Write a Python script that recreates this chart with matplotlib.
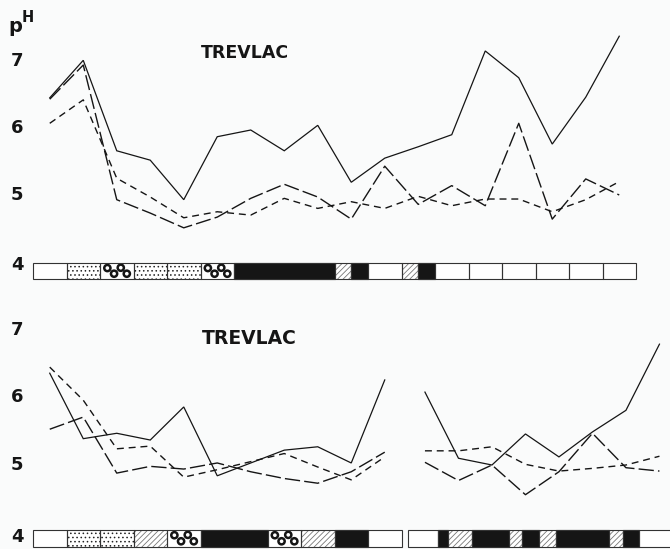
import matplotlib
matplotlib.use("Agg")
import matplotlib.pyplot as plt
from matplotlib.patches import Rectangle

# pH readings, one per sampling cell
solid_top = [6.45, 7.01, 5.66, 5.52, 4.93, 5.87, 5.97, 5.66, 6.04, 5.19,
             5.55, 5.72, 5.90, 7.15, 6.75, 5.76, 6.46, 7.37]
long_top = [6.43, 6.94, 4.93, 4.73, 4.51, 4.67, 4.95, 5.16, 4.97, 4.64,
            5.43, 4.86, 5.14, 4.84, 6.07, 4.64, 5.24, 5.00]
short_top = [6.07, 6.42, 5.25, 4.97, 4.66, 4.75, 4.70, 4.95, 4.80, 4.90,
             4.80, 4.98, 4.84, 4.94, 4.94, 4.75, 4.93, 5.20]

solid_bl = [6.36, 5.39, 5.47, 5.37, 5.86, 4.84, 5.03, 5.22, 5.27, 5.03, 6.26]
long_bl = [5.53, 5.71, 4.88, 4.98, 4.94, 5.03, 4.90, 4.80, 4.73, 4.90, 5.19]
short_bl = [6.45, 5.96, 5.24, 5.28, 4.82, 4.93, 5.05, 5.17, 4.97, 4.78, 5.12]

solid_br = [6.08, 5.10, 5.00, 5.46, 5.12, 5.49, 5.81, 6.79]
long_br = [5.04, 4.77, 5.00, 4.56, 4.90, 5.47, 4.96, 4.91]
short_br = [5.21, 5.21, 5.27, 5.01, 4.91, 4.95, 5.00, 5.13]

# substrate strips: (pattern, width in cells)
strip_top = [("white", 1), ("dots", 1), ("rings", 1), ("dots", 1), ("dots", 1),
             ("rings", 1), ("black", 3), ("hatch", 0.5), ("black", 0.5),
             ("white", 1), ("hatch", 0.5), ("black", 0.5)] + [("white", 1)] * 6
strip_bl = [("white", 1), ("dots", 1), ("dots", 1), ("hatch", 1), ("rings", 1),
            ("black", 2), ("rings", 1), ("hatch", 1), ("black", 1), ("white", 1)]
strip_br = [("white", 0.9), ("black", 0.3), ("hatch", 0.7), ("black", 1.1),
            ("hatch", 0.4), ("black", 0.5), ("hatch", 0.5), ("black", 1.6),
            ("hatch", 0.4), ("black", 0.5), ("white", 1.3)]

ticks = [7, 6, 5]
right_start = 11.2
cell_px = 33.5
ink = "#151515"

plt.rcParams["hatch.linewidth"] = 0.6
bg = "#fafbfb"
fig = plt.figure(figsize=(6.7, 5.49), dpi=100, facecolor=bg)
W, H = 670, 549
x_lo, x_hi = -33 / cell_px, (W - 33) / cell_px

ax1 = fig.add_axes([0, 1 - 290 / H, 1, 290 / H])
ax2 = fig.add_axes([0, 0, 1, 259 / H])
ax1.set_ylim(5 - 95 / 67, 5 + 195 / 67)
ax2.set_ylim(5 - 84 / 67.5, 5 + 175 / 67.5)
for ax in (ax1, ax2):
    ax.set_xlim(x_lo, x_hi)
    ax.set_facecolor(bg)
    ax.axis("off")


def draw_strip(ax, segs, start, y0, y1):
    x = start
    for kind, w in segs:
        if kind == "black":
            ax.add_patch(Rectangle((x, y0), w, y1 - y0, facecolor=ink, edgecolor=ink, lw=0.8))
        elif kind == "hatch":
            ax.add_patch(Rectangle((x, y0), w, y1 - y0, facecolor="white", edgecolor="#777777",
                                   hatch="//////", lw=0))
        elif kind == "dots":
            ax.add_patch(Rectangle((x, y0), w, y1 - y0, facecolor="white", edgecolor="#222222",
                                   hatch="....", lw=0))
        else:
            ax.add_patch(Rectangle((x, y0), w, y1 - y0, facecolor="white", lw=0))
        if kind == "rings":
            h = y1 - y0
            ax.scatter([x + 0.22, x + 0.42, x + 0.62, x + 0.8],
                       [y0 + 0.68 * h, y0 + 0.32 * h, y0 + 0.7 * h, y0 + 0.32 * h],
                       s=20, facecolors="none", edgecolors=ink, linewidths=1.8, zorder=4)
        ax.add_patch(Rectangle((x, y0), w, y1 - y0, fill=False, edgecolor="#333333", lw=0.8, zorder=5))
        x += w


def draw_series(ax, start, solid, longd, shortd):
    xs = [start + i + 0.5 for i in range(len(solid))]
    ax.plot(xs, solid, color=ink, lw=0.9, solid_joinstyle="miter")
    ax.plot(xs, longd, color=ink, lw=1.0, dashes=(11, 3))
    ax.plot(xs, shortd, color=ink, lw=1.0, dashes=(5, 3.5))


draw_series(ax1, 0, solid_top, long_top, short_top)
draw_strip(ax1, strip_top, 0, 3.75, 3.985)

draw_series(ax2, 0, solid_bl, long_bl, short_bl)
draw_series(ax2, right_start, solid_br, long_br, short_br)
draw_strip(ax2, strip_bl, 0, 3.79, 4.04)
draw_strip(ax2, strip_br, right_start, 3.79, 4.04)

lab_x = -16 / cell_px
for ax, four in ((ax1, 3.95), (ax2, 3.93)):
    for t in ticks:
        ax.text(lab_x, t, str(t), fontsize=13, fontweight="bold", color=ink,
                ha="center", va="center")
    ax.text(lab_x, four, "4", fontsize=13, fontweight="bold", color=ink,
            ha="center", va="center")

fig.text(15 / W, 1 - 27 / H, "p", fontsize=14, fontweight="bold", color=ink,
         ha="center", va="center")
fig.text(28 / W, 1 - 18 / H, "H", fontsize=10.5, fontweight="bold", color=ink,
         ha="center", va="center")

fig.text(245 / W, 1 - 53 / H, "TREVLAC", fontsize=12.5, fontweight="bold",
         color=ink, ha="center", va="center")
fig.text(249 / W, 1 - 338 / H, "TREVLAC", fontsize=13.5, fontweight="bold",
         color=ink, ha="center", va="center")

fig.savefig("out.png", dpi=100, facecolor=bg)
